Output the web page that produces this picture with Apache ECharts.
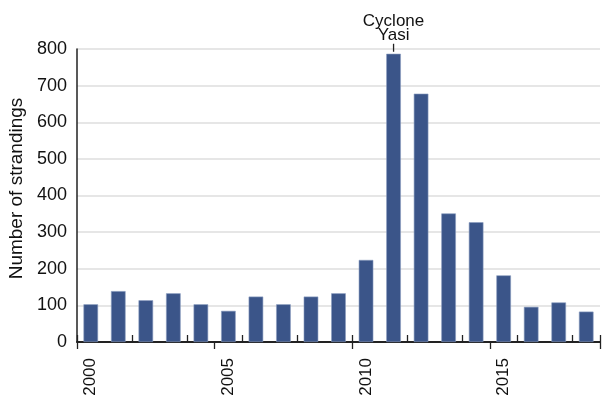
<!DOCTYPE html>
<html>
<head>
<meta charset="utf-8">
<script src="https://cdn.jsdelivr.net/npm/echarts@6/dist/echarts.min.js"></script>
<style>html,body{margin:0;padding:0;background:#fff}#c{width:603px;height:399px}</style>
</head>
<body>
<div id="c"></div>
<script>
var years = ['2000','2001','2002','2003','2004','2005','2006','2007','2008','2009','2010','2011','2012','2013','2014','2015','2016','2017','2018'];
var strandings = [103, 139, 114, 133, 103, 85, 124, 103, 124, 133, 224, 787, 678, 351, 327, 182, 96, 108, 83];
var yTicks = [0, 100, 200, 300, 400, 500, 600, 700, 800];
var annotationYear = '2011';
var annotationText = 'Cyclone\nYasi';

var chart = echarts.init(document.getElementById('c'), null, {renderer: 'canvas'});
var font = 'Liberation Sans, Arial, Helvetica, sans-serif';
var gridTop = 49, gridBottom = 57, H = 399;
chart.setOption({
  animation: false,
  grid: {left: 77, right: 3, top: gridTop, bottom: gridBottom, containLabel: false, outerBoundsMode: 'none'},
  xAxis: [{
    type: 'category',
    data: years,
    position: 'bottom',
    boundaryGap: true,
    axisLine: {show: true, lineStyle: {color: '#222', width: 2}},
    axisTick: {show: true, length: 7, lineStyle: {color: '#222', width: 1.3}},
    axisLabel: {
      rotate: 90, margin: 16, fontSize: 17, color: '#111', fontFamily: font,
      interval: function (i) { return i % 5 === 0; }
    },
    splitLine: {show: false}
  }, {
    type: 'category',
    data: years,
    position: 'top',
    offset: -(H - gridTop - gridBottom),
    boundaryGap: true,
    axisLine: {show: false},
    axisTick: {show: true, inside: false, length: 7, lineStyle: {color: '#222', width: 1.3}},
    axisLabel: {show: false},
    splitLine: {show: false}
  }],
  yAxis: {
    type: 'value',
    min: 0, max: 800, interval: 100,
    name: 'Number of strandings',
    nameLocation: 'middle',
    nameGap: 51,
    nameTextStyle: {fontSize: 19, color: '#111', fontFamily: font, padding: [0, 0, 0, 14]},
    axisLine: {show: true, lineStyle: {color: '#222', width: 1.5}},
    axisTick: {show: false},
    axisLabel: {fontSize: 18, color: '#111', fontFamily: font, margin: 10,
      formatter: function (v) { return yTicks.indexOf(v) >= 0 ? String(v) : ''; }},
    splitLine: {show: true, lineStyle: {color: '#dedede', width: 1.5}}
  },
  series: [{
    type: 'bar',
    data: strandings,
    barWidth: '53%',
    itemStyle: {color: '#3b5589', borderColor: '#8a9cbf', borderWidth: 0.6},
    markPoint: {
      symbol: 'rect',
      symbolSize: [1.3, 8],
      symbolOffset: [0, -6],
      itemStyle: {color: '#222'},
      label: {show: true, position: 'top', distance: 1, formatter: annotationText,
        fontSize: 17, lineHeight: 14, color: '#111', fontFamily: font},
      data: [{coord: [annotationYear, strandings[years.indexOf(annotationYear)]]}]
    }
  }]
});
</script>
</body>
</html>
